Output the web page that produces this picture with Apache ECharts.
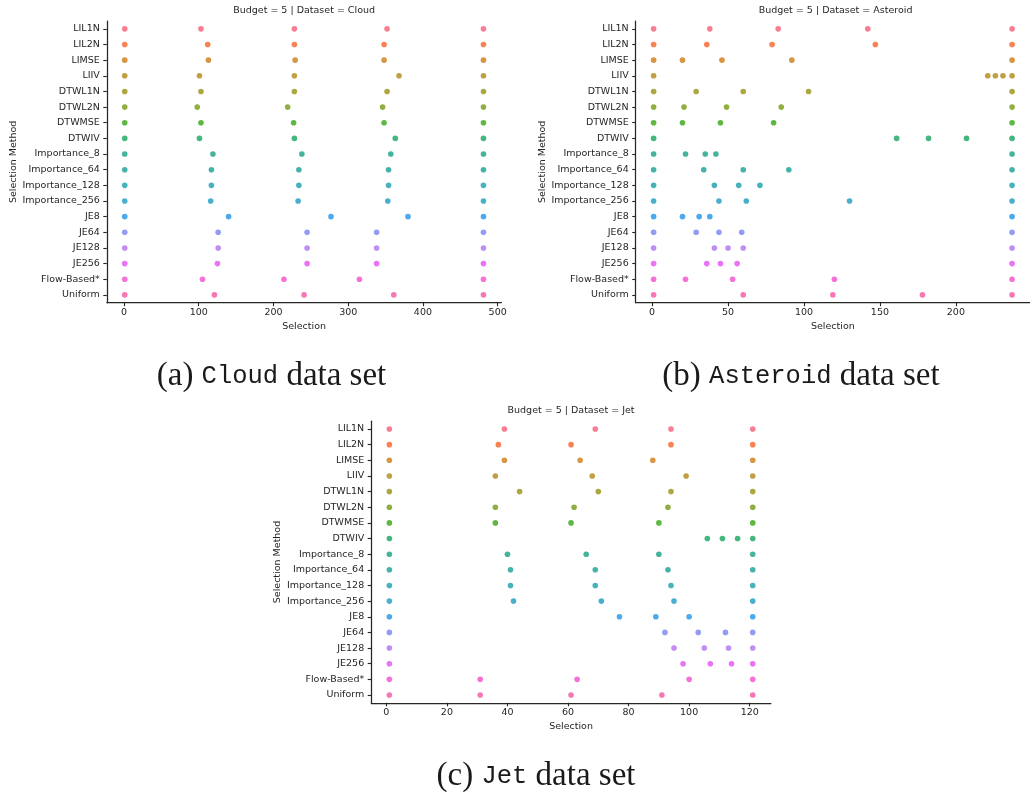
<!DOCTYPE html>
<html>
<head>
<meta charset="utf-8">
<script src="https://cdn.jsdelivr.net/npm/echarts@6/dist/echarts.min.js"></script>
<style>
  html, body { margin: 0; padding: 0; background: #ffffff; }
  #chart { width: 1030px; height: 792px; }
</style>
</head>
<body>
<div id="chart"></div>
<script>
// Selection methods, top row first
const methods = [
  'LIL1N', 'LIL2N', 'LIMSE', 'LIIV', 'DTWL1N', 'DTWL2N', 'DTWMSE', 'DTWIV',
  'Importance_8', 'Importance_64', 'Importance_128', 'Importance_256',
  'JE8', 'JE64', 'JE128', 'JE256', 'Flow-Based*', 'Uniform'
];

// Selected time steps per method (budget = 5), one row per method
const cloudSelections = [
  [1, 103, 228, 352, 481],
  [1, 112, 228, 348, 481],
  [1, 113, 229, 348, 481],
  [1, 101, 228, 368, 481],
  [1, 103, 228, 352, 481],
  [1, 98, 219, 346, 481],
  [1, 103, 227, 348, 481],
  [1, 101, 228, 363, 481],
  [1, 119, 238, 357, 481],
  [1, 117, 234, 354, 481],
  [1, 117, 234, 354, 481],
  [1, 116, 233, 353, 481],
  [1, 140, 277, 380, 481],
  [1, 126, 245, 338, 481],
  [1, 126, 245, 338, 481],
  [1, 125, 245, 338, 481],
  [1, 105, 214, 315, 481],
  [1, 121, 241, 361, 481]
];

const asteroidSelections = [
  [1, 38, 83, 142, 237],
  [1, 36, 79, 147, 237],
  [1, 20, 46, 92, 237],
  [1, 221, 226, 231, 237],
  [1, 29, 60, 103, 237],
  [1, 21, 49, 85, 237],
  [1, 20, 45, 80, 237],
  [1, 161, 182, 207, 237],
  [1, 22, 35, 42, 237],
  [1, 34, 60, 90, 237],
  [1, 41, 57, 71, 237],
  [1, 44, 62, 130, 237],
  [1, 20, 31, 38, 237],
  [1, 29, 44, 59, 237],
  [1, 41, 50, 60, 237],
  [1, 36, 45, 56, 237],
  [1, 22, 53, 120, 237],
  [1, 60, 119, 178, 237]
];

const jetSelections = [
  [1, 39, 69, 94, 121],
  [1, 37, 61, 94, 121],
  [1, 39, 64, 88, 121],
  [1, 36, 68, 99, 121],
  [1, 44, 70, 94, 121],
  [1, 36, 62, 93, 121],
  [1, 36, 61, 90, 121],
  [1, 106, 111, 116, 121],
  [1, 40, 66, 90, 121],
  [1, 41, 69, 93, 121],
  [1, 41, 69, 94, 121],
  [1, 42, 71, 95, 121],
  [1, 77, 89, 100, 121],
  [1, 92, 103, 112, 121],
  [1, 95, 105, 113, 121],
  [1, 98, 107, 114, 121],
  [1, 31, 63, 100, 121],
  [1, 31, 61, 91, 121]
];

// Axis ranges and tick labels
const cloudRange = [-23, 505];
const asteroidRange = [-10.8, 248.8];
const jetRange = [-5, 127];
const cloudTicks = [0, 100, 200, 300, 400, 500];
const asteroidTicks = [0, 50, 100, 150, 200];
const jetTicks = [0, 20, 40, 60, 80, 100, 120];

const panelTitles = [
  'Budget = 5 | Dataset = Cloud',
  'Budget = 5 | Dataset = Asteroid',
  'Budget = 5 | Dataset = Jet'
];
const captionNames = ['Cloud', 'Asteroid', 'Jet'];
const captionLetters = ['(a)', '(b)', '(c)'];

// HUSL colour space, used for the evenly spaced hue palette
const M = [[3.2406, -1.5372, -0.4986], [-0.9689, 1.8758, 0.0415], [0.0557, -0.2040, 1.0570]];
const refU = 0.19784, refV = 0.46834, labE = 0.008856, labK = 903.3;
function maxChroma(L, H) {
  const hr = H * Math.PI / 180, sinH = Math.sin(hr), cosH = Math.cos(hr);
  const sub1 = Math.pow(L + 16, 3) / 1560896.0;
  const sub2 = sub1 > labE ? sub1 : L / labK;
  let result = Infinity;
  for (const [m1, m2, m3] of M) {
    const top = (0.99915 * m1 + 1.05122 * m2 + 1.14460 * m3) * sub2;
    const rb = 0.86330 * m3 - 0.17266 * m2;
    const lb = 0.12949 * m3 - 0.38848 * m1;
    const bottom = (rb * sinH + lb * cosH) * sub2;
    for (const t of [0, 1]) {
      const C = L * (top - 1.05122 * t) / (bottom + 0.17266 * sinH * t);
      if (C > 0 && C < result) result = C;
    }
  }
  return result;
}
function fromLinear(c) {
  return c <= 0.0031308 ? 12.92 * c : 1.055 * Math.pow(c, 1 / 2.4) - 0.055;
}
function huslToHex(H, S, L) {
  const C = maxChroma(L, H) / 100 * S;
  const hr = H * Math.PI / 180;
  const U = Math.cos(hr) * C, V = Math.sin(hr) * C;
  const t = (L + 16) / 116;
  const Y = Math.pow(t, 3) > labE ? Math.pow(t, 3) : (116 * t - 16) / labK;
  const vU = U / (13 * L) + refU, vV = V / (13 * L) + refV;
  const X = -(9 * Y * vU) / ((vU - 4) * vV - vU * vV);
  const Z = (9 * Y - 15 * vV * Y - vV * X) / (3 * vV);
  const rgb = M.map(r => {
    const v = fromLinear(r[0] * X + r[1] * Y + r[2] * Z);
    return Math.round(Math.min(1, Math.max(0, v)) * 255);
  });
  return '#' + rgb.map(v => v.toString(16).padStart(2, '0')).join('');
}
const palette = methods.map((_, i) => {
  const h = ((i / methods.length) + 0.01) % 1;
  return huslToHex(h * 359, 0.9 * 99, 0.65 * 99);
});

const ink = '#262626';
const sans = 'DejaVu Sans';
const fs = 9.5;

// Plot area of each panel
const grids = [
  { left: 106.8, top: 21, width: 394.6, height: 281.7 },
  { left: 635.7, top: 21, width: 399.8, height: 281.7 },
  { left: 371.2, top: 421.2, width: 399.7, height: 281.6 }
];
const ranges = [cloudRange, asteroidRange, jetRange];
const ticks = [cloudTicks, asteroidTicks, jetTicks];
const selections = [cloudSelections, asteroidSelections, jetSelections];

const xAxes = grids.map((g, i) => ({
  type: 'value', gridIndex: i, min: ranges[i][0], max: ranges[i][1],
  name: 'Selection', nameLocation: 'middle', nameGap: 19,
  nameTextStyle: { color: ink, fontFamily: sans, fontSize: fs },
  splitLine: { show: false },
  axisLine: { show: true, onZero: false, lineStyle: { color: ink, width: 1.25 } },
  axisTick: { show: true, length: 3.5, lineStyle: { color: ink, width: 1.1 }, customValues: ticks[i] },
  axisLabel: { color: ink, fontFamily: sans, fontSize: fs, margin: 5, customValues: ticks[i] }
}));

const yAxes = grids.map((g, i) => ({
  type: 'category', gridIndex: i, data: methods, inverse: true, boundaryGap: true,
  name: 'Selection Method', nameLocation: 'middle', nameGap: 88,
  nameTextStyle: { color: ink, fontFamily: sans, fontSize: fs },
  splitLine: { show: false },
  axisLine: { show: true, onZero: false, lineStyle: { color: ink, width: 1.25 } },
  axisTick: { show: true, alignWithLabel: true, length: 3.5, lineStyle: { color: ink, width: 1.1 } },
  axisLabel: { color: ink, fontFamily: sans, fontSize: fs, margin: 7, interval: 0 }
}));

const series = selections.map((rows, i) => ({
  type: 'scatter', xAxisIndex: i, yAxisIndex: i, symbolSize: 5.6,
  data: rows.flatMap((vals, r) => vals.map(v => [v, methods[r], r])),
  itemStyle: { color: p => palette[p.data[2]], opacity: 0.92 },
  silent: true
}));

const titles = grids.map((g, i) => ({
  text: panelTitles[i], left: g.left + g.width / 2, top: g.top - 15.5,
  textAlign: 'center', padding: 0,
  textStyle: { color: ink, fontFamily: sans, fontSize: fs, fontWeight: 'normal' }
}));

// Sub-figure captions below each panel
const captionPos = [[271.5, 376], [801, 376], [536, 776]];
const graphic = captionPos.map((p, i) => ({
  type: 'text', x: p[0], y: p[1],
  style: {
    text: '{s|' + captionLetters[i] + ' }{m|' + captionNames[i] + '}{s| data set}',
    align: 'center', verticalAlign: 'middle',
    rich: {
      s: { fontFamily: 'Liberation Serif', fontSize: 33, fill: '#1a1a1a' },
      m: { fontFamily: 'Liberation Mono', fontSize: 25.5, fill: '#1a1a1a' }
    }
  }
}));

const chart = echarts.init(document.getElementById('chart'), null, { renderer: 'canvas' });
chart.setOption({
  backgroundColor: '#ffffff',
  animation: false,
  title: titles,
  grid: grids,
  xAxis: xAxes,
  yAxis: yAxes,
  series: series,
  graphic: graphic
});
</script>
</body>
</html>
